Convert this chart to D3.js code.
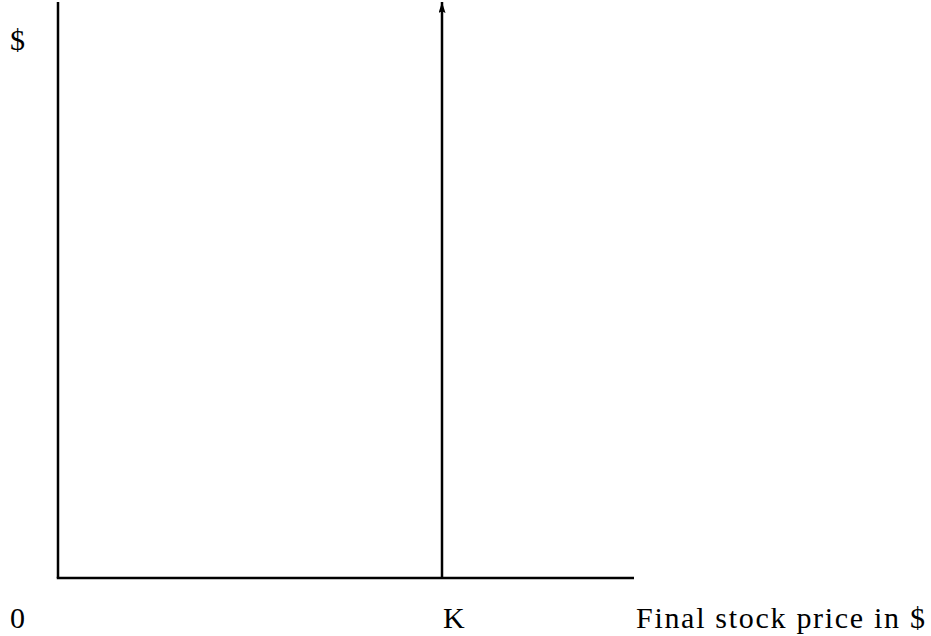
<!DOCTYPE html>
<html>
<head>
<meta charset="utf-8">
<script src="https://cdn.jsdelivr.net/npm/d3@7"></script>
<style>
  html, body { margin: 0; padding: 0; background: #fff; }
</style>
</head>
<body>
<div id="chart"></div>
<script>
// payoff diagram: strike K, price axis in units of K
const xDomain = [0, 1.5];
const yDomain = [0, 1];
const strike = 1;
const xLabels = [
  { value: 0, text: "0" },
  { value: strike, text: "K" }
];
const yLabel = "$";
const xTitle = "Final stock price in $";
const spike = [
  { x: strike, y: 0 },
  { x: strike, y: 1 }
];

const width = 931, height = 636;
const margin = { top: 2, right: 297, bottom: 58, left: 58 };
const font = "'Liberation Serif', 'Times New Roman', serif";

const svg = d3.select("#chart").append("svg")
  .attr("width", width).attr("height", height);

const x = d3.scaleLinear().domain(xDomain).range([margin.left, width - margin.right]);
const y = d3.scaleLinear().domain(yDomain).range([height - margin.bottom, margin.top]);

svg.append("defs").append("marker")
  .attr("id", "arrow")
  .attr("viewBox", "0 0 10 10")
  .attr("preserveAspectRatio", "none")
  .attr("refX", 10).attr("refY", 5)
  .attr("markerUnits", "userSpaceOnUse")
  .attr("markerWidth", 11).attr("markerHeight", 7)
  .attr("orient", "auto")
  .append("path").attr("d", "M0,0L10,5L0,10L1.5,5Z").attr("fill", "#000");

// axes
svg.append("line")
  .attr("x1", x(0)).attr("x2", x(0))
  .attr("y1", y(0)).attr("y2", y(1))
  .attr("stroke", "#000").attr("stroke-width", 2.5);
svg.append("line")
  .attr("x1", x(0) - 1.25).attr("x2", x(xDomain[1]))
  .attr("y1", y(0)).attr("y2", y(0))
  .attr("stroke", "#000").attr("stroke-width", 2.5);

// the payoff spike at K
svg.append("path")
  .datum(spike)
  .attr("d", d3.line().x(d => x(d.x)).y(d => y(d.y)))
  .attr("fill", "none").attr("stroke", "#000").attr("stroke-width", 2.5)
  .attr("marker-end", "url(#arrow)");

// labels
svg.selectAll(".xl")
  .data(xLabels)
  .join("text")
  .attr("class", "xl")
  .attr("x", d => d.value === 0 ? 10 : x(d.value) + 1)
  .attr("y", 628)
  .attr("font-family", font)
  .attr("font-size", 30)
  .text(d => d.text);

svg.append("text")
  .attr("x", 10).attr("y", 50)
  .attr("font-family", font)
  .attr("font-size", 30)
  .text(yLabel);

svg.append("text")
  .attr("x", 636).attr("y", 628)
  .attr("font-family", font)
  .attr("font-size", 30)
  .attr("textLength", 289).attr("lengthAdjust", "spacing")
  .text(xTitle);
</script>
</body>
</html>
